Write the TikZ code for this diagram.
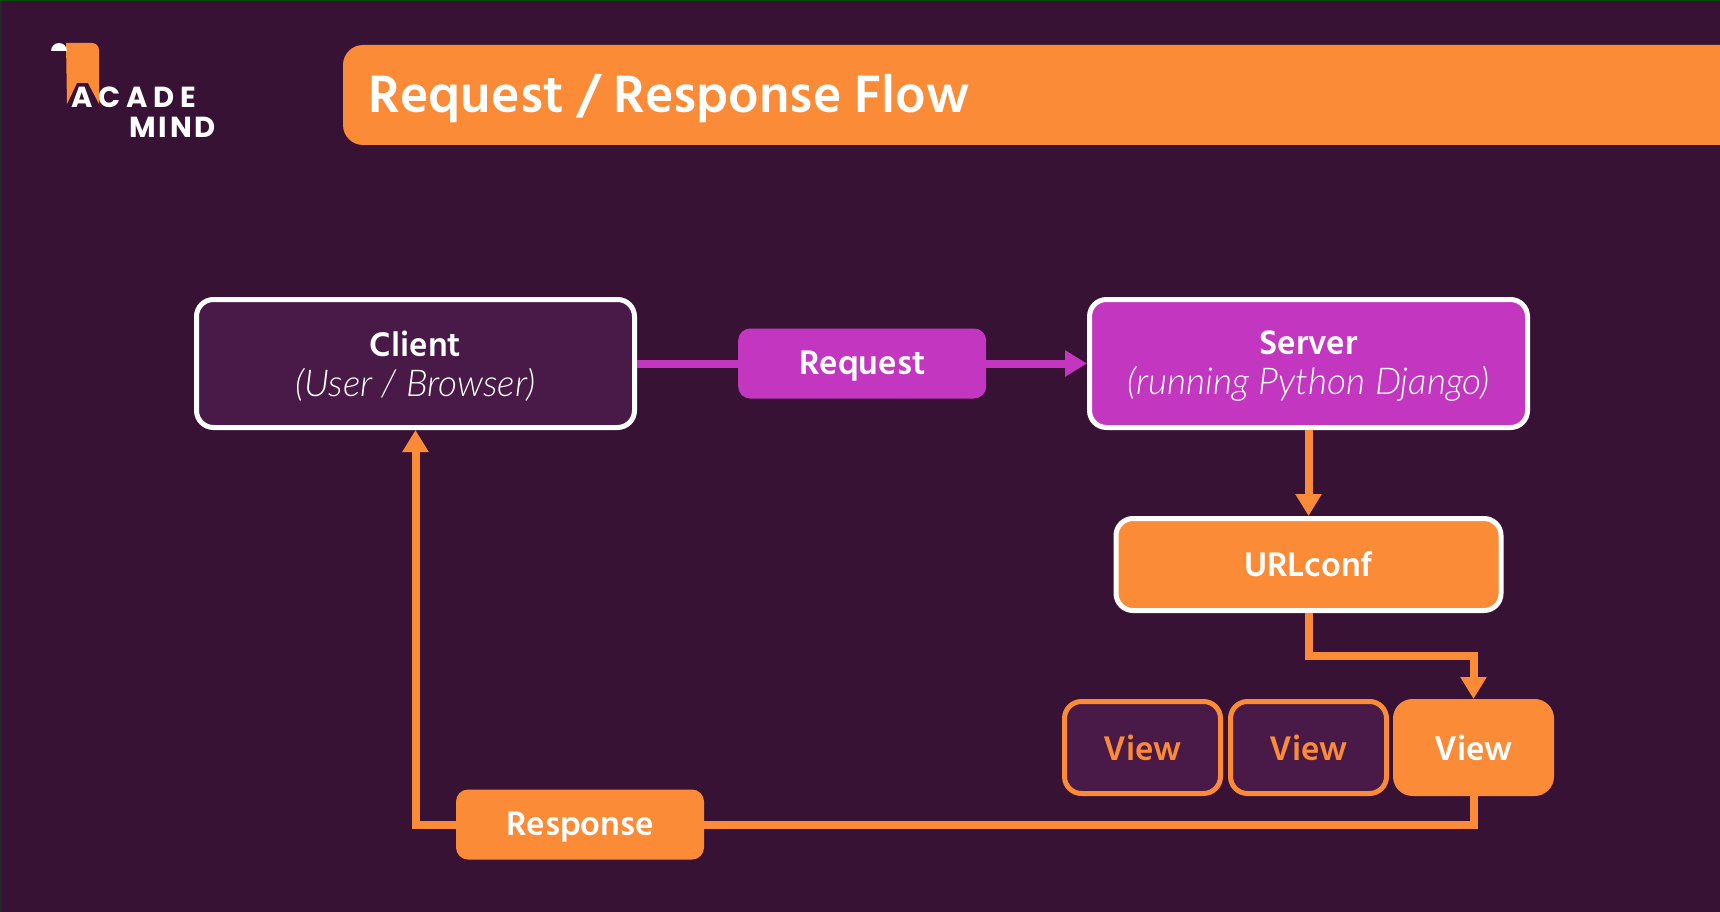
\documentclass[tikz,border=0pt]{standalone}
\usepackage{fontspec}
\setmainfont{Hind Siliguri}
\newfontfamily\logofont{Poppins}
\newfontfamily\subfont[ItalicFont={Lato Light Italic}]{Lato Light}
\usepackage{tikz}
\usetikzlibrary{arrows.meta}
\usetikzlibrary{positioning}
\definecolor{PageBg}{RGB}{55,18,53}
\definecolor{BoxBg}{RGB}{73,26,72}
\definecolor{AcadOrange}{RGB}{251,139,54}
\definecolor{AcadPurple}{RGB}{195,54,192}

\begin{document}
\begin{tikzpicture}[x=1pt, y=1pt,
 box/.style = {draw, rectangle, rounded corners=17pt, line width=5pt, align=center, text=white, font=\fontsize{35}{42}\selectfont\bfseries},
 mainblock/.style = {box, draw=white, minimum width=438pt, minimum height=128pt},
 viewblock/.style = {box, draw=AcadOrange, fill=BoxBg, text=AcadOrange, minimum width=156pt, minimum height=92pt},
 tagblock/.style = {rectangle, rounded corners=12pt, minimum width=248pt, minimum height=70pt},
 boxtext/.style = {align=center, text=white, yshift=-3pt, font=\fontsize{35}{40}\selectfont},
 flow/.style = {line width=8pt},
 flowarrow/.style = {flow, -{Triangle[length=22pt,width=25pt]}},
                        ]

    \useasboundingbox (0,0) rectangle (1720,-912);
    \fill [PageBg] (0,0) rectangle (1720,-912);
    \fill [black!85] (0,0) rectangle (2,-912);
    \fill [black!70!green] (0,0) rectangle (1720,-1);

    % header
    \fill [AcadOrange] (1720,-45) -- (363,-45) arc [start angle=90, end angle=180, radius=20] -- (343,-125)
        arc [start angle=180, end angle=270, radius=20] -- (1720,-145) -- cycle;
    \node [anchor=west, text=white, font=\fontsize{54}{60}\selectfont\bfseries] (title) at (365,-99) {Request / Response Flow};

    % logo
    \fill [AcadOrange] (66,-43) -- (92,-43) arc [start angle=90, end angle=0, radius=7] -- (99,-104)
        -- (88,-83) -- (77,-83) -- (67,-104) -- cycle;
    \fill [white] (51,-51) arc [start angle=180, end angle=0, radius=8] -- cycle;
    \node [anchor=west, inner sep=0pt, text=white, font=\fontsize{29}{30}\logofont\addfontfeature{LetterSpace=20}\bfseries] (logoTop) at (71,-97) {ACADE};
    \node [anchor=west, inner sep=0pt, text=white, font=\fontsize{29}{30}\logofont\addfontfeature{LetterSpace=10}\bfseries] (logoBottom) at (129,-127) {MIND};

    \node [mainblock, fill=BoxBg] (client) at (415.5,-363.5) {};
    \node [boxtext] at (client) {\textbf{Client}\\{\fontsize{37}{40}\subfont\itshape (User / Browser)}};
    \node [mainblock, fill=AcadPurple, right=450pt of client] (server) {};
    \node [boxtext] at (server) {\textbf{Server}\\{\fontsize{37}{40}\subfont\itshape (running Python Django)}};
    \node [tagblock, fill=AcadPurple, right=101pt of client] (request) {};
    \node [boxtext] at (request) {\textbf{Request}};
    \node [box, fill=AcadOrange, draw=white, minimum width=385pt, minimum height=92pt, below=86pt of server] (urlconf) {URLconf};

    \node [viewblock, below=86pt of urlconf] (viewb) {View};
    \node [viewblock, left=5pt of viewb] (viewa) {View};
    \node [viewblock, right=4pt of viewb, fill=AcadOrange, text=white] (viewc) {View};
    \node [tagblock, fill=AcadOrange] (response) at (580,-824.5) {};
    \node [boxtext] at (response) {\textbf{Response}};

    \draw [flow, AcadPurple] (client) -- (request);
    \draw [flowarrow, AcadPurple] (request) -- (server);
    \draw [flowarrow, AcadOrange] (server) -- (urlconf);
    \draw [flowarrow, AcadOrange] (urlconf.south) -- ++(0,-43) -| (viewc.north);
    \draw [flow, AcadOrange] (viewc.south) |- (response.east);
    \draw [flowarrow, AcadOrange] (response.west) -| (client.south);

    \end{tikzpicture}
\end{document}
